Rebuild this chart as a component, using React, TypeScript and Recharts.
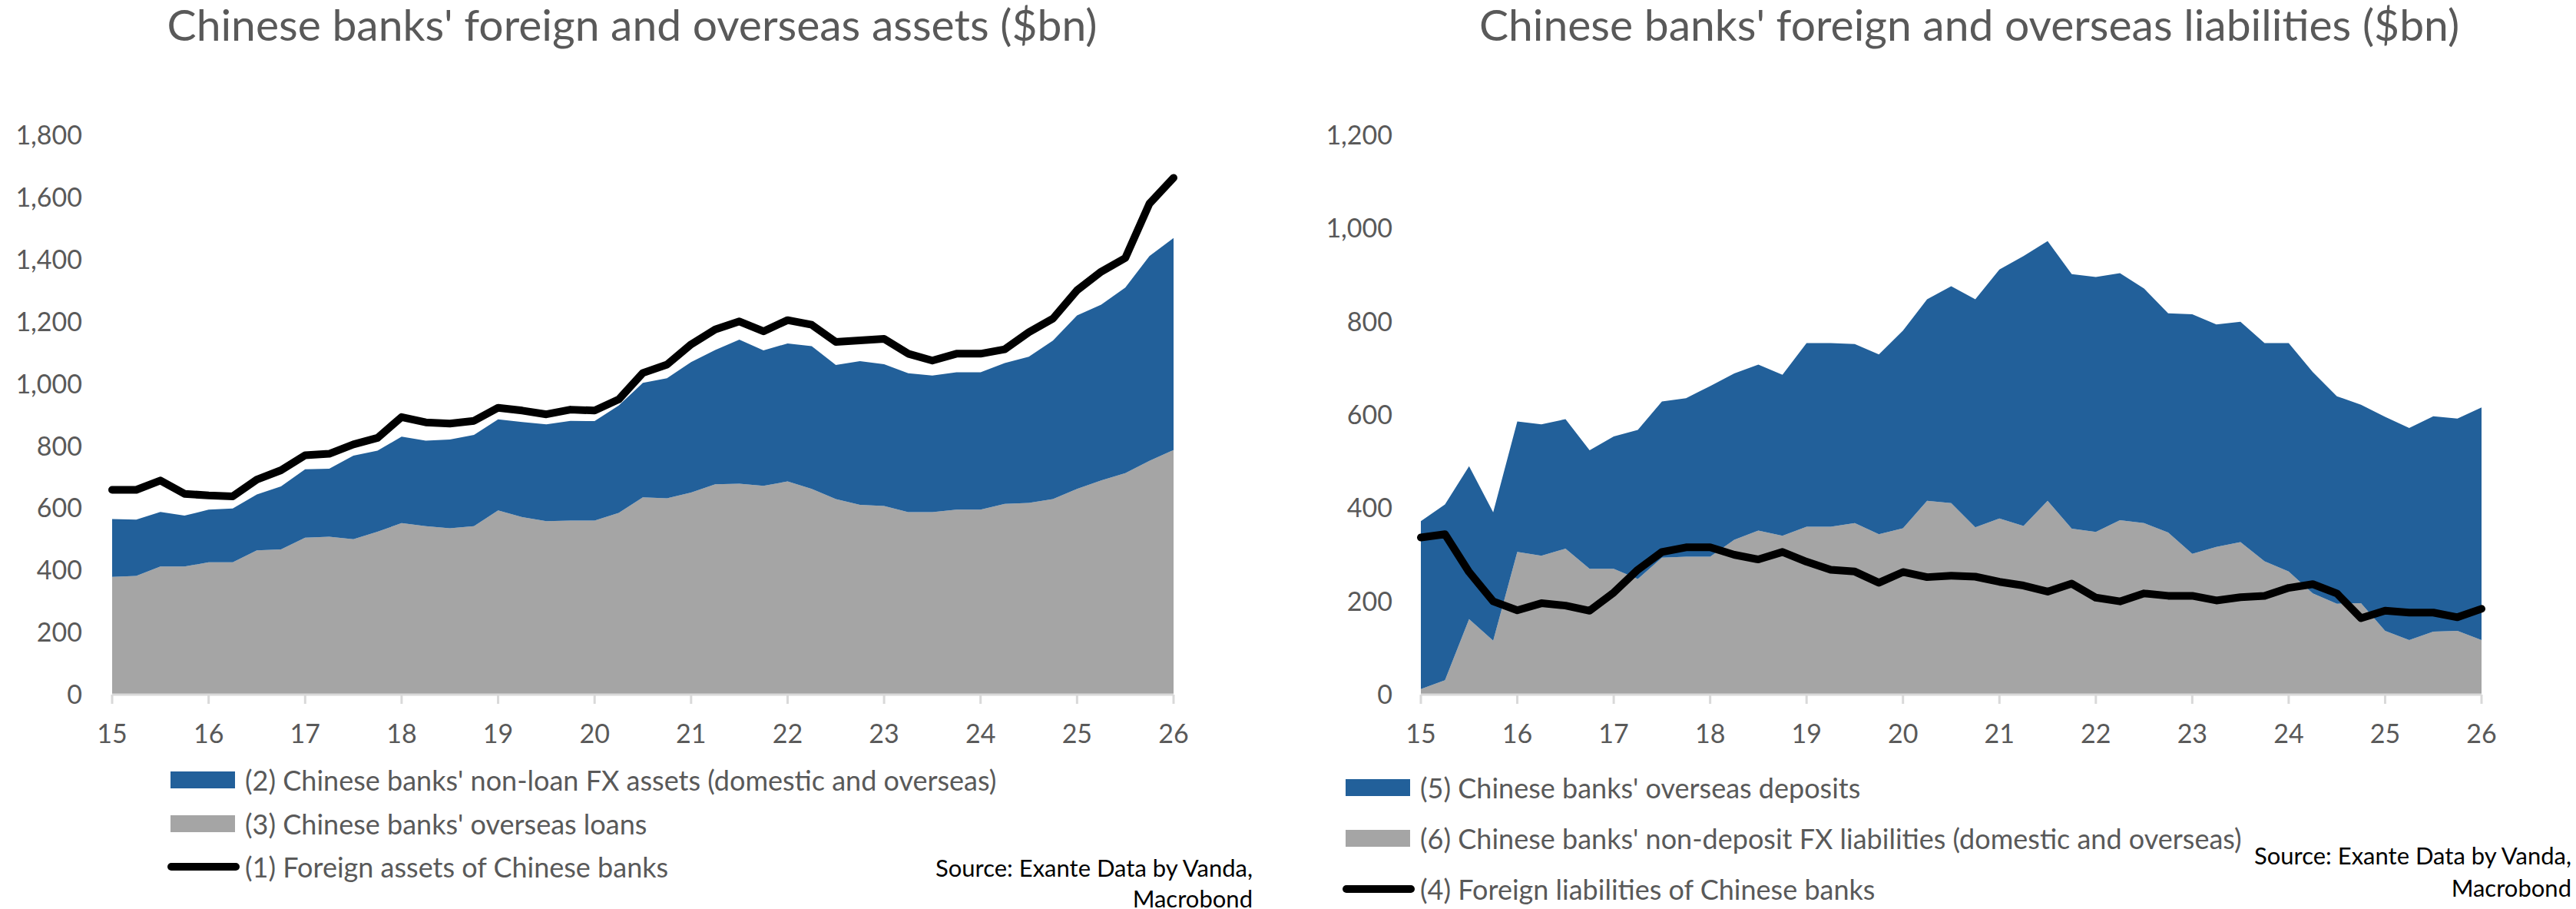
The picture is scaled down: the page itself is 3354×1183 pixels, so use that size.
import { ComposedChart, Area, Line, XAxis, YAxis } from "recharts";

const QUARTERS = [
  "15Q1", "15Q2", "15Q3", "15Q4", "16Q1", "16Q2", "16Q3", "16Q4", "17Q1", "17Q2", "17Q3", "17Q4",
  "18Q1", "18Q2", "18Q3", "18Q4", "19Q1", "19Q2", "19Q3", "19Q4", "20Q1", "20Q2", "20Q3", "20Q4",
  "21Q1", "21Q2", "21Q3", "21Q4", "22Q1", "22Q2", "22Q3", "22Q4", "23Q1", "23Q2", "23Q3", "23Q4",
  "24Q1", "24Q2", "24Q3", "24Q4", "25Q1", "25Q2", "25Q3", "25Q4", "26Q1",
];

// assets chart ($bn)
const OVERSEAS_LOANS = [
  379, 382, 412, 412, 426, 426, 464, 467, 505, 508, 500, 524, 552, 542, 535, 542, 593, 571, 558, 560, 560, 585, 635,
  632, 650, 677, 679, 672, 686, 662, 629, 611, 607, 587, 587, 595, 595, 614, 617, 629, 662, 689, 713, 752, 787,
];
const NON_LOAN_FX = [
  186, 181, 176, 164, 169, 173, 180, 203, 220, 219, 269, 261, 278, 275, 286, 294, 293, 306, 312, 321, 320, 345, 368,
  386, 420, 432, 463, 436, 444, 459, 432, 462, 456, 447, 440, 442, 442, 453, 470, 510, 558, 566, 597, 659, 682,
];
const FOREIGN_ASSETS = [
  659, 659, 689, 646, 641, 638, 692, 722, 770, 775, 805, 826, 893, 876, 872, 881, 923, 914, 902, 917, 914, 950, 1035,
  1062, 1127, 1175, 1201, 1169, 1205, 1190, 1135, 1140, 1145, 1097, 1075, 1097, 1097, 1111, 1166, 1210, 1301, 1361,
  1405, 1580, 1663,
];

// liabilities chart ($bn)
const NON_DEPOSIT_FX = [
  12, 31, 162, 116, 306, 298, 313, 270, 270, 248, 294, 296, 296, 332, 352, 341, 360, 360, 368, 344, 357, 416, 411,
  359, 378, 362, 416, 356, 349, 374, 368, 348, 302, 317, 327, 286, 264, 217, 195, 196, 137, 117, 135, 137, 117,
];
const OVERSEAS_DEPOSITS = [
  360, 377, 328, 275, 280, 282, 278, 254, 284, 320, 335, 340, 366, 357, 356, 345, 394, 394, 384, 386, 424, 432, 465,
  489, 534, 579, 557, 546, 547, 530, 503, 470, 514, 477, 473, 468, 490, 475, 445, 426, 459, 455, 462, 455, 499,
];
const FOREIGN_LIABILITIES = [
  337, 344, 263, 200, 181, 196, 191, 180, 219, 268, 306, 316, 316, 300, 290, 306, 285, 268, 264, 240, 263, 252, 255,
  253, 242, 234, 221, 238, 208, 200, 217, 212, 212, 202, 209, 212, 229, 237, 217, 164, 180, 176, 176, 166, 184,
];

const ASSET_TICKS = [0, 200, 400, 600, 800, 1000, 1200, 1400, 1600, 1800];
const LIAB_TICKS = [0, 200, 400, 600, 800, 1000, 1200];

const BLUE = "#22609A";
const GREY = "#A5A5A5";
const TEXT = "#595959";
const AXIS = "#D9D9D9";
const FONT = 'Lato, "Open Sans", sans-serif';

const assetData = QUARTERS.map((q, i) => ({
  q,
  loans: OVERSEAS_LOANS[i],
  nonLoan: NON_LOAN_FX[i],
  assets: FOREIGN_ASSETS[i],
}));

const liabData = QUARTERS.map((q, i) => ({
  q,
  nonDeposit: NON_DEPOSIT_FX[i],
  deposits: OVERSEAS_DEPOSITS[i],
  liabilities: FOREIGN_LIABILITIES[i],
}));

const fmt = (v: number) => v.toLocaleString("en-US");

function Swatch({ kind, color }: { kind: "area" | "line"; color: string }) {
  return (
    <svg width={94} height={22} style={{ flex: "none", marginRight: 7 }}>
      {kind === "area" ? (
        <rect x={4} y={0} width={84} height={22} fill={color} />
      ) : (
        <line x1={5} y1={11} x2={89} y2={11} stroke={color} strokeWidth={10} strokeLinecap="round" />
      )}
    </svg>
  );
}

function ChartLegend({
  items,
  left,
  top,
  rowHeight,
}: {
  items: { label: string; kind: "area" | "line"; color: string }[];
  left: number;
  top: number;
  rowHeight: number;
}) {
  return (
    <div style={{ position: "absolute", left, top, fontFamily: FONT, fontSize: 36, color: TEXT }}>
      {items.map((it) => (
        <div key={it.label} style={{ display: "flex", alignItems: "center", height: rowHeight, whiteSpace: "nowrap" }}>
          <Swatch kind={it.kind} color={it.color} />
          <span>{it.label}</span>
        </div>
      ))}
    </div>
  );
}

function Title({ text, center }: { text: string; center: number }) {
  return (
    <div
      style={{
        position: "absolute",
        left: center - 800,
        width: 1600,
        top: 3,
        textAlign: "center",
        fontFamily: FONT,
        fontSize: 57,
        lineHeight: "57px",
        color: TEXT,
        whiteSpace: "nowrap",
      }}
    >
      {text}
    </div>
  );
}

function Source({ right, top, lineHeight }: { right: number; top: number; lineHeight: number }) {
  return (
    <div
      style={{
        position: "absolute",
        left: right - 700,
        width: 700,
        top,
        textAlign: "right",
        fontFamily: FONT,
        fontSize: 31,
        lineHeight: `${lineHeight}px`,
        color: "#000",
        whiteSpace: "nowrap",
      }}
    >
      <div>Source: Exante Data by Vanda,</div>
      <div>Macrobond</div>
    </div>
  );
}

const tickStyle = { fill: TEXT, fontSize: 34, fontFamily: FONT };

export default function App() {
  return (
    <div style={{ position: "absolute", left: 0, top: 0, width: 3354, height: 1183, background: "#fff" }}>
      <Title text="Chinese banks' foreign and overseas assets ($bn)" center={823} />
      <Title text="Chinese banks' foreign and overseas liabilities ($bn)" center={2564} />

      <div style={{ position: "absolute", left: 0, top: 0 }}>
        <ComposedChart width={1677} height={1183} data={assetData} margin={{ top: 176, right: 149, bottom: 219, left: 46 }}>
          <XAxis
            dataKey="q"
            interval={3}
            tickFormatter={(q: string) => q.slice(0, 2)}
            height={60}
            stroke={AXIS}
            strokeWidth={3}
            tickSize={12}
            tickMargin={27}
            tick={tickStyle}
          />
          <YAxis
            type="number"
            domain={[0, 1800]}
            ticks={ASSET_TICKS}
            tickFormatter={fmt}
            width={100}
            axisLine={false}
            tickLine={false}
            tickSize={0}
            tickMargin={39}
            tick={tickStyle}
          />
          <Area dataKey="loans" stackId="a" type="linear" fill={GREY} fillOpacity={1} stroke="none" isAnimationActive={false} />
          <Area dataKey="nonLoan" stackId="a" type="linear" fill={BLUE} fillOpacity={1} stroke="none" isAnimationActive={false} />
          <Line
            dataKey="assets"
            type="linear"
            stroke="#000"
            strokeWidth={10}
            strokeLinecap="round"
            strokeLinejoin="round"
            dot={false}
            isAnimationActive={false}
          />
        </ComposedChart>
      </div>

      <div style={{ position: "absolute", left: 1677, top: 0 }}>
        <ComposedChart width={1677} height={1183} data={liabData} margin={{ top: 176, right: 123, bottom: 219, left: 73 }}>
          <XAxis
            dataKey="q"
            interval={3}
            tickFormatter={(q: string) => q.slice(0, 2)}
            height={60}
            stroke={AXIS}
            strokeWidth={3}
            tickSize={12}
            tickMargin={27}
            tick={tickStyle}
          />
          <YAxis
            type="number"
            domain={[0, 1200]}
            ticks={LIAB_TICKS}
            tickFormatter={fmt}
            width={100}
            axisLine={false}
            tickLine={false}
            tickSize={0}
            tickMargin={37}
            tick={tickStyle}
          />
          <Area dataKey="nonDeposit" stackId="b" type="linear" fill={GREY} fillOpacity={1} stroke="none" isAnimationActive={false} />
          <Area dataKey="deposits" stackId="b" type="linear" fill={BLUE} fillOpacity={1} stroke="none" isAnimationActive={false} />
          <Line
            dataKey="liabilities"
            type="linear"
            stroke="#000"
            strokeWidth={10}
            strokeLinecap="round"
            strokeLinejoin="round"
            dot={false}
            isAnimationActive={false}
          />
        </ComposedChart>
      </div>

      <ChartLegend
        left={218}
        top={987}
        rowHeight={56.5}
        items={[
          { label: "(2) Chinese banks' non-loan FX assets (domestic and overseas)", kind: "area", color: BLUE },
          { label: "(3) Chinese banks' overseas loans", kind: "area", color: GREY },
          { label: "(1) Foreign assets of Chinese banks", kind: "line", color: "#000" },
        ]}
      />
      <ChartLegend
        left={1748}
        top={992}
        rowHeight={66}
        items={[
          { label: "(5) Chinese banks' overseas deposits", kind: "area", color: BLUE },
          { label: "(6) Chinese banks' non-deposit FX liabilities (domestic and overseas)", kind: "area", color: GREY },
          { label: "(4) Foreign liabilities of Chinese banks", kind: "line", color: "#000" },
        ]}
      />

      <Source right={1631} top={1109} lineHeight={40} />
      <Source right={3348} top={1092} lineHeight={42} />
    </div>
  );
}
